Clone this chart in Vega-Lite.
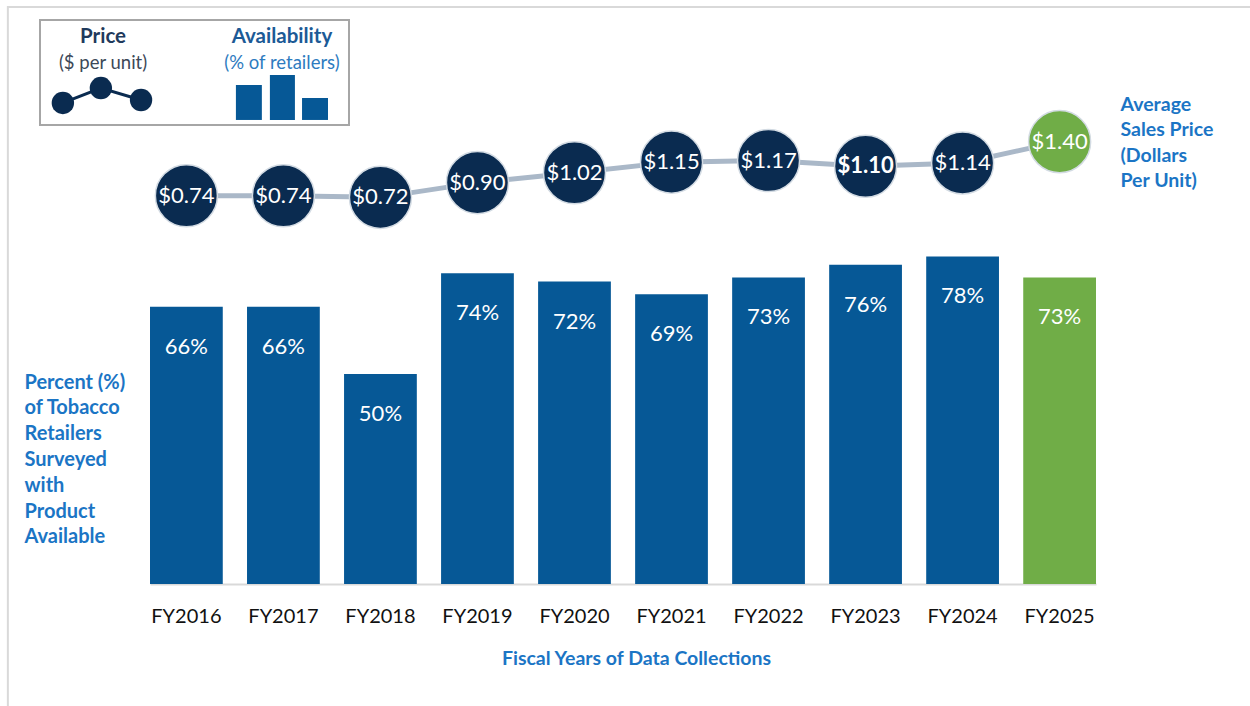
{
  "$schema": "https://vega.github.io/schema/vega-lite/v6.json",
  "width": 946,
  "height": 462,
  "autosize": {"type": "none"},
  "padding": {"left": 150, "top": 122, "right": 154, "bottom": 122},
  "background": "white",
  "config": {"view": {"stroke": null}, "font": "Lato"},
  "datasets": {
    "main": [
      {"year": "FY2016", "avail": 0.66, "price": 0.74},
      {"year": "FY2017", "avail": 0.66, "price": 0.74},
      {"year": "FY2018", "avail": 0.50, "price": 0.72},
      {"year": "FY2019", "avail": 0.74, "price": 0.90},
      {"year": "FY2020", "avail": 0.72, "price": 1.02},
      {"year": "FY2021", "avail": 0.69, "price": 1.15},
      {"year": "FY2022", "avail": 0.73, "price": 1.17},
      {"year": "FY2023", "avail": 0.76, "price": 1.10},
      {"year": "FY2024", "avail": 0.78, "price": 1.14},
      {"year": "FY2025", "avail": 0.73, "price": 1.40}
    ],
    "legendBox": [{"x0": 0, "x1": 100, "y0": 0, "y1": 100}],
    "frame": [{"x0": -10.4, "x1": 400, "y0": -12.4, "y1": 700}],
    "legendPoints": [{"lx": 7.4, "ly": 79}, {"lx": 19.7, "ly": 64.8}, {"lx": 32.7, "ly": 76.2}],
    "legendBars": [
      {"x0": 63.4, "x1": 71.8, "top": 61.9, "bottom": 95.2},
      {"x0": 74.4, "x1": 82.5, "top": 52.4, "bottom": 95.2},
      {"x0": 84.8, "x1": 93.2, "top": 74.3, "bottom": 95.2}
    ],
    "legendHead": [
      {"t": "Price", "lx": 20.4, "ly": 16.2, "role": "ph"},
      {"t": "Availability", "lx": 78.3, "ly": 16.2, "role": "ah"}
    ],
    "legendSub": [
      {"t": "($ per unit)", "lx": 20.4, "ly": 41, "role": "ps"},
      {"t": "(% of retailers)", "lx": 78.3, "ly": 41, "role": "as"}
    ]
  },
  "layer": [
    {
      "data": {"name": "main"},
      "layer": [
        {
          "layer": [
            {
              "mark": {"type": "bar"},
              "encoding": {
                "x": {
                  "field": "year", "type": "nominal", "sort": null,
                  "scale": {"paddingInner": 0.25, "paddingOuter": 0},
                  "axis": {
                    "title": "Fiscal Years of Data Collections",
                    "labelAngle": 0, "labelFontSize": 20, "labelColor": "#111111", "labelPadding": 22,
                    "ticks": false, "tickSize": 0,
                    "domainColor": "#d9d9d9", "domainWidth": 2,
                    "titleFontSize": 19.5, "titleFontWeight": "bold", "titleColor": "#1b75c5",
                    "titleX": 486, "titleY": 80, "titleBaseline": "alphabetic"
                  }
                },
                "y": {
                  "field": "avail", "type": "quantitative",
                  "scale": {"domain": [0, 1.1], "nice": false},
                  "axis": {
                    "title": ["Percent (%)", "of Tobacco", "Retailers", "Surveyed", "with", "Product", "Available"],
                    "labels": false, "ticks": false, "domain": false, "grid": false,
                    "titleAngle": 0, "titleAlign": "left", "titleBaseline": "top",
                    "titleX": -126, "titleY": 250, "titleFontSize": 20, "titleFontWeight": "bold",
                    "titleColor": "#1b75c5", "titleLineHeight": 25.8
                  }
                },
                "color": {"condition": {"test": "datum.year === 'FY2025'", "value": "#70ad47"}, "value": "#065896"}
              }
            },
            {
              "mark": {"type": "text", "baseline": "middle", "dy": 40, "fontSize": 22, "color": "white"},
              "encoding": {
                "x": {"field": "year", "type": "nominal", "sort": null},
                "y": {"field": "avail", "type": "quantitative"},
                "text": {"field": "avail", "type": "quantitative", "format": ".0%"}
              }
            }
          ]
        },
        {
          "layer": [
            {
              "mark": {"type": "line", "color": "#aab8c8", "strokeWidth": 5},
              "encoding": {
                "x": {"field": "year", "type": "nominal", "sort": null},
                "y": {
                  "field": "price", "type": "quantitative",
                  "scale": {"domain": [-4.0, 1.64], "nice": false, "zero": false},
                  "axis": {
                    "orient": "right",
                    "title": ["Average", "Sales Price", "(Dollars", "Per Unit)"],
                    "labels": false, "ticks": false, "domain": false, "grid": false,
                    "titleAngle": 0, "titleAlign": "left", "titleBaseline": "top",
                    "titleX": 24, "titleY": -27, "titleFontSize": 19.5, "titleFontWeight": "bold",
                    "titleColor": "#1b75c5", "titleLineHeight": 25.5
                  }
                }
              }
            },
            {
              "mark": {"type": "point", "filled": true, "size": 3850, "opacity": 1, "stroke": "#d3dbe3", "strokeWidth": 1.5, "shape": "circle"},
              "encoding": {
                "x": {"field": "year", "type": "nominal", "sort": null},
                "y": {"field": "price", "type": "quantitative"},
                "fill": {"condition": {"test": "datum.year === 'FY2025'", "value": "#70ad47"}, "value": "#0a2b50"}
              }
            },
            {
              "transform": [{"filter": "datum.year !== 'FY2023'"}],
              "mark": {"type": "text", "baseline": "middle", "fontSize": 22, "color": "white"},
              "encoding": {
                "x": {"field": "year", "type": "nominal", "sort": null},
                "y": {"field": "price", "type": "quantitative"},
                "text": {"field": "price", "type": "quantitative", "format": "$.2f"}
              }
            },
            {
              "transform": [{"filter": "datum.year === 'FY2023'"}],
              "mark": {"type": "text", "baseline": "middle", "fontSize": 22, "fontWeight": "bold", "color": "white"},
              "encoding": {
                "x": {"field": "year", "type": "nominal", "sort": null},
                "y": {"field": "price", "type": "quantitative"},
                "text": {"field": "price", "type": "quantitative", "format": "$.2f"}
              }
            }
          ]
        }
      ],
      "resolve": {"scale": {"y": "independent"}}
    },
    {
      "layer": [
        {
          "data": {"name": "frame"},
          "mark": {"type": "rect", "fill": "transparent", "stroke": "#d9d9d9", "strokeWidth": 2},
          "encoding": {
            "x": {"field": "x0", "type": "quantitative", "scale": {"domain": [0, 100], "range": [-110, 199]}, "axis": null},
            "x2": {"field": "x1"},
            "y": {"field": "y0", "type": "quantitative", "scale": {"domain": [0, 100], "range": [-102, 3]}, "axis": null},
            "y2": {"field": "y1"}
          }
        },
        {
          "data": {"name": "legendBox"},
          "mark": {"type": "rect", "fill": "white", "stroke": "#a6a6a6", "strokeWidth": 2},
          "encoding": {
            "x": {"field": "x0", "type": "quantitative"},
            "x2": {"field": "x1"},
            "y": {"field": "y0", "type": "quantitative"},
            "y2": {"field": "y1"}
          }
        },
        {
          "data": {"name": "legendPoints"},
          "mark": {"type": "line", "color": "#0a2b50", "strokeWidth": 3},
          "encoding": {
            "x": {"field": "lx", "type": "quantitative"},
            "y": {"field": "ly", "type": "quantitative"}
          }
        },
        {
          "data": {"name": "legendPoints"},
          "mark": {"type": "point", "filled": true, "size": 500, "opacity": 1, "color": "#0a2b50", "shape": "circle"},
          "encoding": {
            "x": {"field": "lx", "type": "quantitative"},
            "y": {"field": "ly", "type": "quantitative"}
          }
        },
        {
          "data": {"name": "legendBars"},
          "mark": {"type": "rect", "color": "#065896"},
          "encoding": {
            "x": {"field": "x0", "type": "quantitative"},
            "x2": {"field": "x1"},
            "y": {"field": "top", "type": "quantitative"},
            "y2": {"field": "bottom"}
          }
        },
        {
          "data": {"name": "legendHead"},
          "mark": {"type": "text", "baseline": "middle", "align": "center", "fontSize": 20.5, "fontWeight": "bold"},
          "encoding": {
            "x": {"field": "lx", "type": "quantitative"},
            "y": {"field": "ly", "type": "quantitative"},
            "text": {"field": "t"},
            "color": {"field": "role", "type": "nominal", "legend": null,
              "scale": {"domain": ["ph", "ps", "ah", "as"], "range": ["#1f3a5c", "#3c4858", "#1c5a96", "#2e7bc0"]}}
          }
        },
        {
          "data": {"name": "legendSub"},
          "mark": {"type": "text", "baseline": "middle", "align": "center", "fontSize": 18.5},
          "encoding": {
            "x": {"field": "lx", "type": "quantitative"},
            "y": {"field": "ly", "type": "quantitative"},
            "text": {"field": "t"},
            "color": {"field": "role", "type": "nominal", "legend": null}
          }
        }
      ]
    }
  ],
  "resolve": {"scale": {"x": "independent", "y": "independent"}}
}
